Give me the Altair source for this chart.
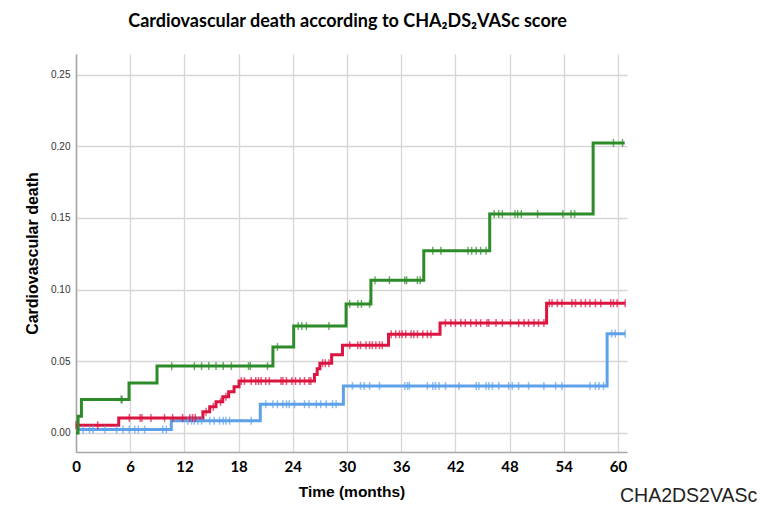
import altair as alt
import pandas as pd

# ---- data (time in months, cumulative incidence) ----
groups = ["low", "intermediate", "high"]
colors = ["#5ea1e9", "#db1440", "#2e8b2a"]

blue_t = [0, 10.55, 20.4, 29.6, 58.8, 60.8]
blue_v = [0.0024, 0.0085, 0.0200, 0.0328, 0.0692, 0.0692]

red_t = [0, 4.73, 14.05, 14.8, 15.5, 16.25, 16.9, 17.5, 18.05, 26.4, 26.7, 27.0,
         28.3, 29.5, 34.6, 40.3, 52.1, 60.8]
red_v = [0.0054, 0.0105, 0.0147, 0.0182, 0.0217, 0.0252, 0.0287, 0.0322, 0.0362,
         0.0408, 0.0448, 0.0486, 0.0546, 0.0612, 0.0688, 0.0766, 0.0905, 0.0905]

green_t = [0, 0.23, 0.6, 5.87, 8.97, 21.8, 24.1, 29.9, 32.65, 38.5, 45.8, 57.25, 60.75]
green_v = [0, 0.0116, 0.0233, 0.0349, 0.0466, 0.0600, 0.0745, 0.0900, 0.1065,
           0.1270, 0.1527, 0.2023, 0.2023]

blue_c = [0.8, 1.5, 1.9, 3.2, 4.5, 5.2, 5.9, 6.5, 6.9, 7.6, 9.6, 10.0, 12.4, 12.8,
          13.1, 13.5, 13.9, 14.8, 15.3, 15.9, 16.3, 16.6, 17.0, 19.4, 21.0, 21.8,
          22.3, 22.9, 23.3, 23.6, 24.2, 25.3, 25.8, 26.6, 27.1, 27.7, 28.4, 28.8,
          30.6, 31.5, 31.9, 32.5, 33.6, 36.4, 36.7, 36.9, 38.9, 39.5, 39.8, 40.2,
          40.9, 42.4, 44.3, 44.6, 45.4, 45.7, 46.1, 46.8, 47.9, 48.3, 49.0, 50.1,
          51.8, 53.1, 53.8, 56.9, 57.5, 57.9, 58.4, 59.3, 59.7, 60.8]
red_c = [0.0, 2.4, 5.9, 7.1, 7.3, 8.3, 9.8, 10.7, 11.8, 12.6, 12.9, 13.2, 14.4,
         15.2, 16.0, 16.6, 18.3, 18.65, 19.4, 19.9, 20.2, 20.5, 21.0, 21.4, 22.7,
         22.9, 23.3, 23.9, 24.3, 24.8, 25.3, 25.8, 26.0, 27.3, 27.6, 28.0, 30.3,
         31.2, 31.5, 32.1, 32.5, 32.8, 33.2, 33.6, 33.9, 34.9, 35.4, 35.8, 36.1,
         36.5, 37.1, 37.4, 37.8, 38.4, 38.9, 39.3, 40.9, 41.5, 42.0, 42.6, 43.1,
         43.7, 44.3, 44.8, 45.5, 45.7, 46.5, 47.2, 48.1, 49.0, 49.6, 50.1, 50.7,
         51.2, 51.8, 52.4, 52.7, 53.3, 53.8, 54.9, 55.3, 55.9, 56.4, 56.9, 57.5,
         58.1, 59.2, 59.5, 59.9, 60.8]
green_c = [5.0, 5.1, 10.6, 13.1, 13.9, 14.7, 15.5, 16.3, 17.2, 19.1, 19.3, 21.2,
           22.3, 24.6, 25.0, 25.5, 28.0, 30.3, 31.2, 31.6, 32.5, 33.1, 34.7, 36.4,
           36.6, 37.8, 38.1, 39.5, 40.4, 43.4, 43.8, 44.3, 44.8, 45.4, 46.3, 46.8,
           47.2, 48.6, 48.9, 49.3, 51.1, 53.9, 54.8, 55.2, 59.5, 60.5]

x_ticks = list(range(0, 61, 6))
y_ticks = [0.0, 0.05, 0.10, 0.15, 0.20, 0.25]

title_text = "Cardiovascular death according to CHA\u2082DS\u2082VASc score"
legend_title = "CHA2DS2VASc"

# ---- build tables ----
series = {
    "low": (blue_t, blue_v, blue_c),
    "intermediate": (red_t, red_v, red_c),
    "high": (green_t, green_v, green_c),
}
line_rows, cens_rows = [], []
for g in groups:
    t, v, c = series[g]
    for i, (ti, vi) in enumerate(zip(t, v)):
        line_rows.append({"group": g, "time": ti, "value": vi, "idx": i})
    for ci in c:
        val = v[0]
        for ti, vi in zip(t, v):
            if ti <= ci:
                val = vi
        cens_rows.append({"group": g, "time": ci, "value": val})
line_df = pd.DataFrame(line_rows)
cens_df = pd.DataFrame(cens_rows)

xscale = alt.Scale(domain=[0, 61], nice=False, zero=False)
yscale = alt.Scale(domain=[-0.0133, 0.2643], nice=False, zero=False)
cscale = alt.Scale(domain=groups, range=colors)

xaxis = alt.Axis(values=x_ticks, title="Time (months)", grid=True, ticks=False,
                 labelFont="Lato", labelFontSize=15, labelFontWeight="bold",
                 labelColor="#000000", labelPadding=7, titleFont="Liberation Sans",
                 titleFontSize=15.5, titleFontWeight="bold", titleColor="#000000",
                 titlePadding=10, domainColor="#a6a6a6", domainWidth=1.5,
                 gridColor="#d6d6d6", gridWidth=1.3, labelFlush=False)
yaxis = alt.Axis(values=y_ticks, format=".2f", title="Cardiovascular death",
                 grid=True, ticks=False, labelFont="Liberation Sans",
                 labelFontSize=10, labelColor="#333333", labelPadding=6,
                 titleFont="Liberation Sans", titleFontSize=16,
                 titleFontWeight="bold", titleColor="#000000", titlePadding=10,
                 domainColor="#a6a6a6", domainWidth=1.5, gridColor="#d6d6d6",
                 gridWidth=1.3)

lines = alt.Chart(line_df).mark_line(interpolate="step-after", strokeWidth=3).encode(
    x=alt.X("time:Q", scale=xscale, axis=xaxis),
    y=alt.Y("value:Q", scale=yscale, axis=yaxis),
    color=alt.Color("group:N", scale=cscale, legend=None),
    order=alt.Order("idx:Q"),
)

cens = alt.Chart(cens_df).mark_tick(orient="vertical", size=8, thickness=1.5).encode(
    x=alt.X("time:Q", scale=xscale),
    y=alt.Y("value:Q", scale=yscale),
    color=alt.Color("group:N", scale=cscale, legend=None),
)

legend_txt = alt.Chart(pd.DataFrame({"t": [legend_title]})).mark_text(
    align="left", baseline="alphabetic", font="Liberation Sans", fontSize=19.5,
    color="#222222"
).encode(text="t:N", x=alt.value(544), y=alt.value(448))

chart = alt.layer(lines, cens, legend_txt).properties(
    width=551,
    height=398,
    title=alt.TitleParams(title_text, font="Lato", fontSize=18, fontWeight="bold",
                          color="#000000", anchor="middle", offset=23, dx=-4),
    autosize=alt.AutoSizeParams(type="none"),
    padding={"left": 68, "top": 46, "right": 135, "bottom": 57},
).configure_view(stroke=None)

chart.save("out.html", embed_options={"renderer": "svg", "actions": False})
